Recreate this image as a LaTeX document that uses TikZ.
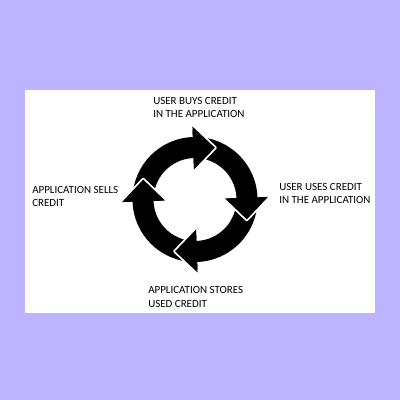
\documentclass[tikz,border=0pt]{standalone}
\usepackage{fontspec}
\setmainfont{Carlito}
\definecolor{lav}{RGB}{189,180,255}
\tikzset{
  lbl/.style={anchor=west, align=left, inner sep=0pt, font=\fontsize{7.8}{9.6}\selectfont},
  gapline/.style={draw=white, line width=0.09cm, line join=round}
}
\def\rin{41.5}\def\rout{62.5}\def\hin{30}\def\hout{73}\def\rtip{55.5}\def\hlen{23}
\newcommand\arrowbody[1]{%
  \fill[black] (#1+86:\rout) arc[start angle=#1+86, end angle=#1, radius=\rout]
    -- (#1:\hout) -- (#1-\hlen:\rtip) -- (#1:\hin) -- (#1:\rin)
    arc[start angle=#1, end angle=#1+86, radius=\rin] -- cycle;}
\newcommand\arrowgap[1]{%
  \draw[gapline] (#1:\hout) -- (#1-\hlen:\rtip) -- (#1:\hin);}
\newcommand\arrowhd[1]{%
  \fill[black] (#1:\hout) -- (#1-\hlen:\rtip) -- (#1:\hin) -- cycle;}
\begin{document}
\begin{tikzpicture}[x=0.025cm,y=0.025cm]
\fill[lav] (-195,-200.5) rectangle (205,199.5);
\fill[white] (-170,-113.5) rectangle (180,109.5);
\foreach \b in {92,2,-88,182} {\arrowbody{\b}}
\foreach \b in {92,2,-88,182} {\arrowgap{\b}}
\foreach \b in {92,2,-88,182} {\arrowhd{\b}}
\node[lbl] (buys) at (-42,92.25) {USER BUYS CREDIT\\IN THE APPLICATION};
\node[lbl] (uses) at (84,6) {USER USES CREDIT\\IN THE APPLICATION};
\node[lbl] (sells) at (-163,3) {APPLICATION SELLS\\CREDIT};
\node[lbl] (stores) at (-47,-97.5) {APPLICATION STORES\\USED CREDIT};
\end{tikzpicture}
\end{document}
